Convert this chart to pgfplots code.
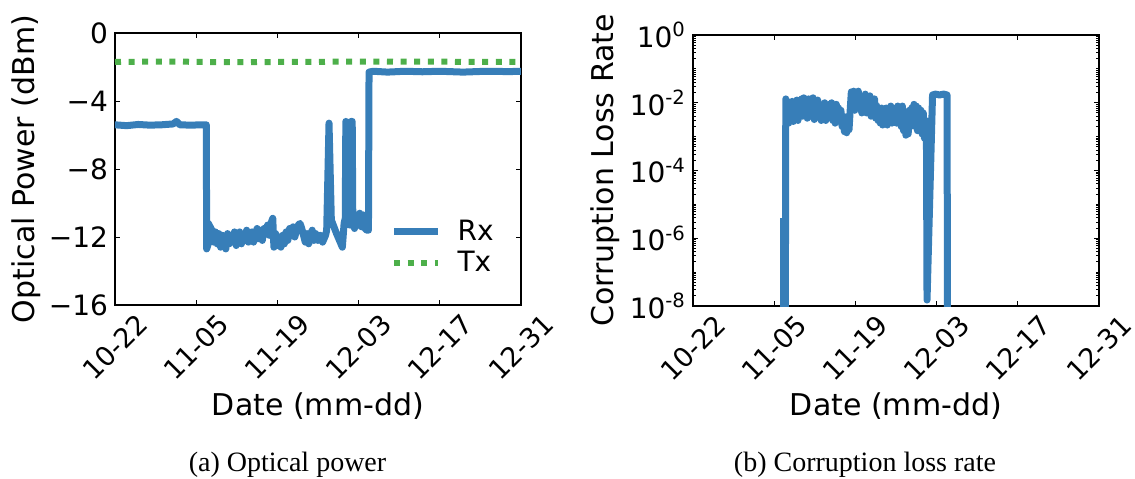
\documentclass[border=0pt]{standalone}
\usepackage{fontspec}
\setmainfont{DejaVu Sans}
\newfontfamily\capfont{Liberation Serif}
\usepackage{pgfplots}
\usepackage{pgfplotstable}
\pgfplotsset{compat=1.18}
\definecolor{rxblue}{RGB}{55,126,184}
\definecolor{txgreen}{RGB}{77,175,74}

\pgfplotstableread{
day val
0 -5.4
2 -5.45
4 -5.38
6 -5.42
8 -5.4
10 -5.35
10.6 -5.2
11.2 -5.4
13 -5.42
15 -5.4
15.75 -5.4
15.8 -12.7
16.0 -12.5
16.1 -11.2
16.4 -11.4
16.7 -11.6
17.0 -12.3
17.3 -11.7
17.6 -12.4
17.9 -11.8
18.2 -12.6
18.5 -11.9
18.8 -12.1
19.1 -12.7
19.4 -11.8
19.7 -12.4
20.0 -11.9
20.3 -12.3
20.6 -11.7
20.9 -12.5
21.2 -12.0
21.5 -11.7
21.8 -12.4
22.1 -11.9
22.4 -12.2
22.7 -11.6
23.0 -12.3
23.3 -12.0
23.6 -11.7
23.9 -12.3
24.2 -11.9
24.5 -11.5
24.8 -12.1
25.1 -11.6
25.4 -12.2
25.7 -11.5
26.0 -11.8
26.3 -11.3
26.6 -11.9
26.9 -11.2
27.2 -10.9
27.4 -12.6
27.7 -11.8
28.0 -12.5
28.3 -12.0
28.6 -12.6
28.9 -11.9
29.2 -12.4
29.5 -11.7
29.8 -12.2
30.1 -11.5
30.4 -11.9
30.7 -11.4
31.0 -12.0
31.3 -11.6
31.6 -11.3
31.9 -11.2
32.2 -11.5
32.5 -11.9
32.8 -12.3
33.1 -11.8
33.4 -12.4
33.7 -11.9
34.0 -11.6
34.3 -12.2
34.6 -11.8
35.0 -12.2
35.4 -11.9
35.8 -12.3
36.3 -11.9
36.5 -11.6
36.9 -5.3
37.3 -11.0
38.2 -11.8
39.2 -12.6
39.5 -11.2
39.7 -10.9
39.8 -5.2
39.9 -11.0
40.2 -10.8
40.5 -11.3
40.7 -5.2
40.9 -5.2
41.0 -10.8
41.3 -11.5
41.6 -10.7
41.9 -11.3
42.2 -10.6
42.5 -11.4
42.8 -10.7
43.1 -11.5
43.4 -11.6
43.7 -11.6
43.8 -2.3
44.5 -2.25
47 -2.3
50 -2.25
53 -2.28
56 -2.25
60 -2.3
64 -2.25
68 -2.27
70 -2.25
}\rxdata

\pgfplotstableread{
day val
0 -1.7
10 -1.68
20 -1.72
30 -1.7
44 -1.68
70 -1.7
}\txdata

\pgfplotstableread{
day val
15.9 1e-10
16.0 1.3e-2
16.1 3e-3
16.3 1.0e-2
16.5 2.5e-3
16.7 8e-3
16.9 3e-3
17.1 1.1e-2
17.3 2.8e-3
17.5 9e-3
17.7 4e-3
17.9 1.2e-2
18.1 3e-3
18.3 1.0e-2
18.5 5e-3
18.7 1.3e-2
18.9 4e-3
19.1 1.4e-2
19.3 6e-3
19.5 1.2e-2
19.7 3.5e-3
19.9 1.3e-2
20.1 5e-3
20.3 1.3e-2
20.5 7e-3
20.7 1.4e-2
20.9 3.2e-3
21.1 1.1e-2
21.3 4e-3
21.5 1.2e-2
21.7 6e-3
21.9 9e-3
22.1 3e-3
22.3 8e-3
22.5 4e-3
22.7 1.0e-2
22.9 3e-3
23.1 8e-3
23.3 3.5e-3
23.5 9e-3
23.7 4e-3
23.9 1.0e-2
24.1 3e-3
24.3 8e-3
24.5 2.5e-3
24.7 9e-3
24.9 4e-3
25.1 7e-3
25.3 3e-3
25.5 6e-3
25.7 2e-3
25.9 4e-3
26.1 1.4e-3
26.3 3e-3
26.5 1.3e-3
26.7 4e-3
26.9 1.6e-3
27.1 6e-3
27.3 2.1e-2
27.5 8e-3
27.7 2.2e-2
27.9 6e-3
28.1 2.0e-2
28.3 1.0e-2
28.5 2.2e-2
28.7 7e-3
28.9 1.6e-2
29.1 5e-3
29.3 1.5e-2
29.5 8e-3
29.7 1.8e-2
29.9 5e-3
30.1 1.4e-2
30.3 6e-3
30.5 1.6e-2
30.7 4e-3
30.9 1.2e-2
31.1 5e-3
31.3 1.3e-2
31.5 3.5e-3
31.7 8e-3
31.9 3e-3
32.1 6e-3
32.3 2.5e-3
32.5 7e-3
32.7 2.2e-3
32.9 6e-3
33.1 3e-3
33.3 7e-3
33.5 2.2e-3
33.7 5e-3
33.9 3e-3
34.1 8e-3
34.3 2.5e-3
34.5 6e-3
34.7 3e-3
34.9 7e-3
35.1 2.5e-3
35.3 8e-3
35.5 3e-3
35.7 6e-3
35.9 2e-3
36.1 8e-3
36.3 1.5e-3
36.5 5e-3
36.7 1.1e-3
36.9 4e-3
37.1 1.2e-3
37.3 6e-3
37.5 2e-3
37.7 7e-3
37.9 3e-3
38.1 9e-3
38.3 2e-3
38.5 8e-3
38.7 1.5e-3
38.9 7e-3
39.1 2e-3
39.3 6e-3
39.5 1.2e-3
39.7 5e-3
39.9 9e-4
40.1 3e-3
40.25 1e-3
40.35 1.5e-8
41.3 1.7e-2
41.8 1.8e-2
42.5 1.7e-2
43.2 1.8e-2
43.8 1.7e-2
43.9 1e-10
}\clrdata

\pgfplotsset{
  legline/.style={legend image code/.code={\draw[##1, line cap=butt] (0pt,0pt) -- (22pt,0pt);}},
  mystyle/.style={
    scale only axis, width=203pt,
    axis line style={line width=0.7pt, black},
    tick align=inside,
    major tick length=2.6pt, minor tick length=1.4pt,
    every tick/.style={black, line width=0.5pt},
    tick label style={font=\fontsize{14}{16}\selectfont},
    label style={font=\fontsize{15}{18}\selectfont},
    xmin=0, xmax=70,
    xtick={0,14,28,42,56,70},
    xticklabels={10-22,11-05,11-19,12-03,12-17,12-31},
    xticklabel style={font=\fontsize{13.5}{16}\selectfont, yshift=-21pt, rotate=45, anchor=center},
    xlabel={Date (mm-dd)},
    xlabel style={at={(axis description cs:0.5,-0.37)}, anchor=center},
  }
}

\begin{document}
\begin{tikzpicture}
\useasboundingbox (0,0) rectangle (567.5pt,-239pt);
\begin{axis}[mystyle, at={(57.5pt,-16.5pt)}, anchor=north west, height=136pt,
  ymin=-16, ymax=0, ytick={-16,-12,-8,-4,0}, yticklabels={−16,−12,−8,−4,0},
  ylabel={Optical Power (dBm)},
  ylabel style={at={(axis description cs:-0.219,0.5)}, anchor=center},
  legend cell align=left,
  legend style={draw=none, fill=none, at={(axis description cs:0.663,0.2115)}, anchor=west,
    font=\fontsize{14}{16}\selectfont, /tikz/every odd column/.append style={column sep=6pt}},
]
\addplot[rxblue, line width=3.5pt, line join=round, line cap=round, legline]
  table[x=day, y=val] {\rxdata};
\addlegendentry{Rx}
\addplot[txgreen, line width=3pt, dash pattern=on 3pt off 3.8pt, legline]
  table[x=day, y=val] {\txdata};
\addlegendentry{Tx}
\end{axis}

\begin{axis}[mystyle, at={(346.5pt,-17.5pt)}, anchor=north west, height=135.5pt,
  ymode=log, ymin=1e-8, ymax=1,
  ytick={1e-8,1e-6,1e-4,1e-2,1},
  yticklabels={10\textsuperscript{-8},10\textsuperscript{-6},10\textsuperscript{-4},10\textsuperscript{-2},10\textsuperscript{0}},
  minor ytick={2e-8,3e-8,4e-8,5e-8,6e-8,7e-8,8e-8,9e-8,1e-7,2e-7,3e-7,4e-7,5e-7,6e-7,7e-7,8e-7,9e-7,
    2e-6,3e-6,4e-6,5e-6,6e-6,7e-6,8e-6,9e-6,1e-5,2e-5,3e-5,4e-5,5e-5,6e-5,7e-5,8e-5,9e-5,
    2e-4,3e-4,4e-4,5e-4,6e-4,7e-4,8e-4,9e-4,1e-3,2e-3,3e-3,4e-3,5e-3,6e-3,7e-3,8e-3,9e-3,
    2e-2,3e-2,4e-2,5e-2,6e-2,7e-2,8e-2,9e-2,1e-1,2e-1,3e-1,4e-1,5e-1,6e-1,7e-1,8e-1,9e-1},
  ylabel={Corruption Loss Rate},
  ylabel style={at={(axis description cs:-0.217,0.5)}, anchor=center},
]
\addplot[rxblue, line width=3.5pt, line join=round, line cap=round]
  table[x=day, y=val] {\clrdata};
\addplot[rxblue, line width=1.6pt]
  coordinates {(15.35,1e-10) (15.35,4e-6)};
\end{axis}

\node[font=\capfont\fontsize{14}{16}\selectfont, anchor=base] at (143.75pt,-235.5pt) {(a) Optical power};
\node[font=\capfont\fontsize{14}{16}\selectfont, anchor=base] at (432.5pt,-235.5pt) {(b) Corruption loss rate};
\end{tikzpicture}
\end{document}
